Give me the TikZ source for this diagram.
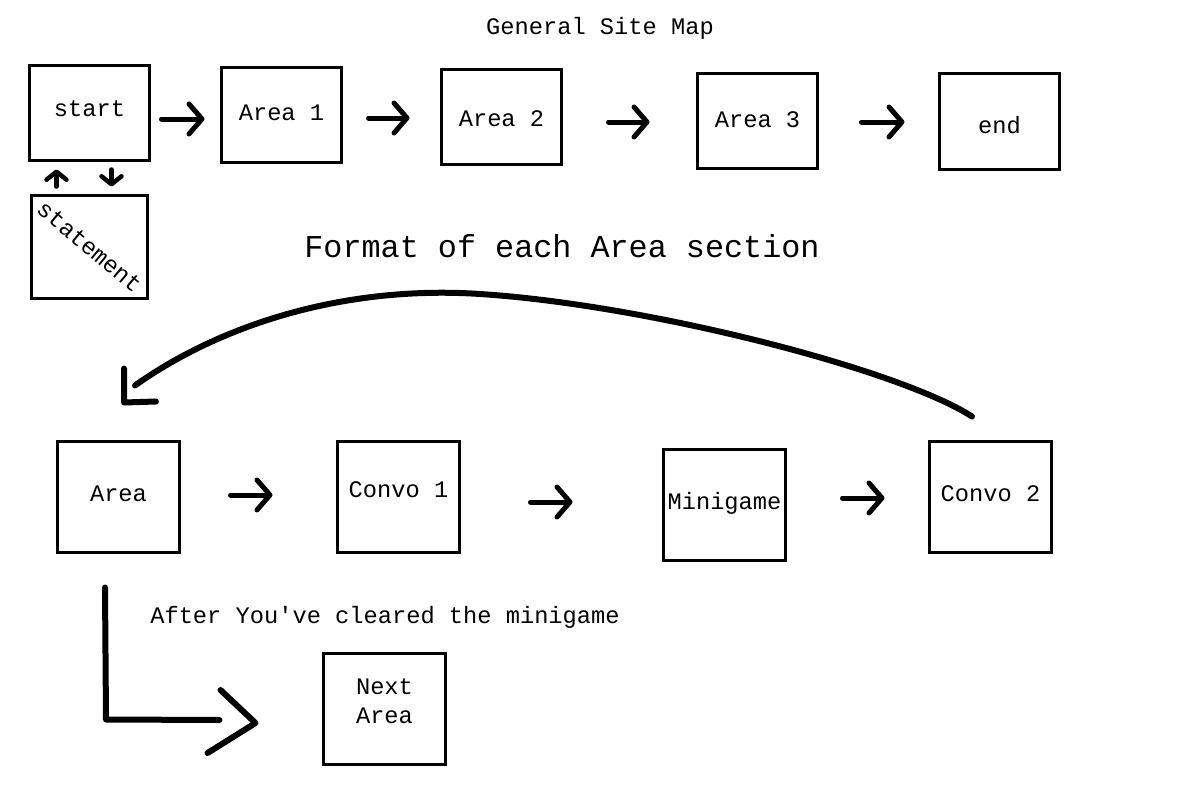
\documentclass[tikz,border=0pt]{standalone}
\usepackage{fontspec}
\setmonofont{Liberation Mono}
\usetikzlibrary{arrows.meta,calc}
\begin{document}
\begin{tikzpicture}[x=1pt,y=-1pt,
  box/.style={draw,line width=3pt,minimum width=120pt,minimum height=95pt,inner sep=0pt,
    font=\ttfamily\fontsize{23.7}{29}\selectfont,align=center,text height=14pt,text depth=1pt},
  bigbox/.style={box,minimum width=122pt,minimum height=111pt},
  arr/.style={line width=5pt,line cap=round,line join=round,
    -{Straight Barb[length=13pt,width=30pt,line cap=round,line join=round]}},
  sarr/.style={line width=4.5pt,line cap=round,
    -{Straight Barb[length=8pt,width=20pt,line cap=round,line join=round]}},
  hand/.style={line width=6pt,line cap=round,line join=round},
  lbl/.style={font=\ttfamily\fontsize{23.7}{29}\selectfont,inner sep=0pt},
  biglbl/.style={font=\ttfamily\fontsize{31.8}{36}\selectfont,inner sep=0pt}]
\useasboundingbox (0,0) rectangle (1200,800);

% titles
\node[lbl] (title) at (600,28) {General Site Map};
\node[biglbl] (fmt) at (562,246) {Format of each Area section};
\node[lbl] (after) at (385,617) {After You've cleared the minigame};

% top row
\node[box] (start) at (89.5,113) {\raisebox{3pt}{start}};
\node[box] (a1) at (281.5,115) {\raisebox{1pt}{Area 1}};
\node[box] (a2) at (501.5,117) {\raisebox{-3pt}{Area 2}};
\node[box] (a3) at (757.5,121) {\raisebox{0pt}{Area 3}};
\node[box] (end) at (999.5,121.5) {\raisebox{-5.5pt}{end}};
\node[box,minimum width=116pt,minimum height=103pt,text height=,text depth=] (stmt) at (89.5,247)
  {\rotatebox{-40}{statement}};

\draw[arr] ($(start.east)+(10.5,6)$) -- ($(a1.west)+(-15.5,4)$);
\draw[arr] ($(a1.east)+(25.5,3)$) -- ($(a2.west)+(-30.5,1)$);
\draw[arr] ($(a2.east)+(45.5,5)$) -- ($(a3.west)+(-46.5,1)$);
\draw[arr] ($(a3.east)+(42.5,1)$) -- ($(end.west)+(-33.5,0.5)$);

\draw[sarr] ($(stmt.north west)+(26.5,-7.5)$) -- ($(start.south west)+(28.5,7.5)$);
\draw[sarr] ($(start.south west)+(83.5,7.5)$) -- ($(stmt.north west)+(81.5,-7.5)$);

% bottom row
\node[bigbox] (area) at (118.5,497) {\raisebox{2pt}{Area}};
\node[bigbox] (c1) at (398.5,497) {\raisebox{6pt}{Convo 1}};
\node[bigbox] (mg) at (724.5,505) {\raisebox{2pt}{Minigame}};
\node[bigbox] (c2) at (990.5,497) {\raisebox{2pt}{Convo 2}};
\node[bigbox,text height=,text depth=] (next) at (384.5,709) {\begin{tabular}{@{}c@{}}Next\\Area\end{tabular}\\[6pt]\mbox{}};

\draw[arr] ($(area.east)+(49.5,-2)$) -- ($(c1.west)+(-63.5,-2)$);
\draw[arr] ($(c1.east)+(69.5,5)$) -- ($(mg.west)+(-89.5,-3)$);
\draw[arr] ($(mg.east)+(55.5,-7)$) -- ($(c2.west)+(-43.5,1)$);

% loop back arrow
\coordinate (top) at (480,294);
\draw[hand] ($(c2.north)+(-18.5,-23.5)$) .. controls (900,370) and (650,305) .. (top)
  .. controls (344,285) and (220,325) .. ($(area.north)+(16.5,-54.5)$);
\draw[hand] ($(area.north)+(5.5,-71.5)$) -- ($(area.north)+(5.5,-37.5)$) -- ($(area.north)+(37.5,-38.5)$);

% to next area
\draw[hand] ($(area.south)+(-13.5,33.5)$) -- ($(area.south)+(-12.5,165.5)$) -- ($(next.west)+(-102.5,11)$);
\draw[hand] ($(next.west)+(-101.5,-19)$) -- ($(next.west)+(-66.5,14)$) -- ($(next.west)+(-114.5,44)$);
\end{tikzpicture}
\end{document}
